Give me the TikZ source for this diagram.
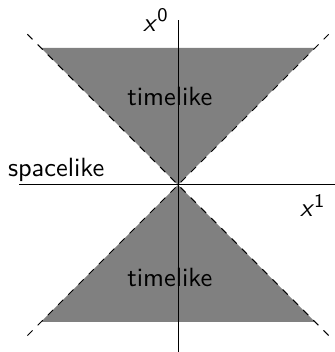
\documentclass[11pt,tikz,border=0pt]{standalone}
\usepackage{xcolor}
\usepackage{tikz}
\usetikzlibrary{positioning}
\tikzset{
  cone/.style={fill=gray},
  luz/.style={dashed, thin},
  eixo/.style={thin},
  rotulo/.style={font=\sffamily},
}
\newcommand{\coord}[1]{\textsl{x}\textsuperscript{#1}}

\begin{document}
\begin{tikzpicture}
  \useasboundingbox (-2.6,-2.44) rectangle (2.29,2.70);
  \coordinate (O) at (0,0);
  \coordinate (ul) at (-2.2,2.2);
  \coordinate (ur) at (2.2,2.2);
  \coordinate (ll) at (-2.2,-2.2);
  \coordinate (lr) at (2.2,-2.2);
  \coordinate (xl) at (-2.32,0);
  \coordinate (xr) at (2.29,0);
  \coordinate (tb) at (0,-2.44);
  \coordinate (tt) at (0,2.41);

  \fill[cone] (O) -- (-2,2) -- (2,2) -- cycle;
  \fill[cone] (O) -- (-2,-2) -- (2,-2) -- cycle;
  \draw[luz] (ul) -- (lr);
  \draw[luz] (ur) -- (ll);

  \node[rotulo] (futuro) at (-0.12,1.29) {timelike};
  \node[rotulo] (passado) at (-0.12,-1.35) {timelike};
  \node[rotulo, anchor=base] (espaco) at (-1.78,0.12) {spacelike};

  \draw[eixo] (xl) -- (xr) node[rotulo, below left] (x1) {\coord{1}};
  \draw[eixo] (tb) -- (tt) node[rotulo, left] (x0) {\coord{0}};
\end{tikzpicture}
\end{document}
